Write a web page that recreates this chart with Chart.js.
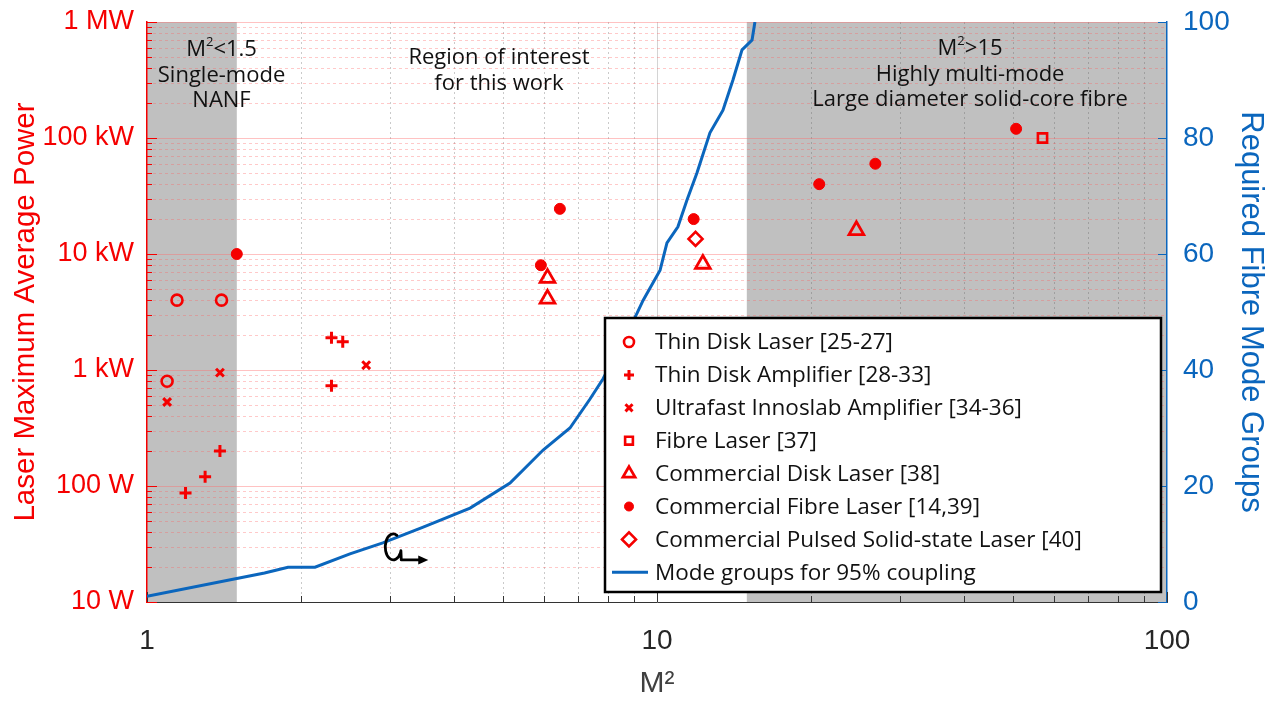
<!DOCTYPE html>
<html>
<head>
<meta charset="utf-8">
<script src="https://cdn.jsdelivr.net/npm/chart.js@4.4.1/dist/chart.umd.min.js"></script>
<style>
  html, body { margin: 0; padding: 0; background: #ffffff; }
  #wrap { width: 1277px; height: 702px; position: relative; }
</style>
</head>
<body>
<div id="wrap"><canvas id="c" width="1277" height="702"></canvas></div>
<script>
// ---- Source data: beam quality (M²) vs. maximum average power ----
const thinDiskLaserM2    = [1.145, 1.40, 1.095];
const thinDiskLaserPower = [4000, 4000, 800];

const thinDiskAmpM2    = [1.19, 1.30, 1.39, 2.30, 2.42, 2.30];
const thinDiskAmpPower = [87, 120, 200, 1900, 1750, 730];

const innoslabM2    = [1.095, 1.39, 2.69];
const innoslabPower = [530, 950, 1100];

const fibreLaserM2    = [57];
const fibreLaserPower = [100000];

const commDiskM2    = [6.1, 6.1, 12.3, 24.6];
const commDiskPower = [6200, 4100, 8200, 16000];

const commFibreM2    = [1.5, 5.92, 6.45, 11.8, 20.8, 26.8, 50.6];
const commFibrePower = [10000, 8000, 24500, 20000, 40000, 60000, 120000];

const pulsedM2    = [11.9];
const pulsedPower = [13500];

// Fibre mode groups needed for 95% coupling, vs. M²
const modeM2     = [1.0, 1.70, 1.89, 2.135, 2.50, 2.90, 3.48, 4.30, 5.15, 5.98, 6.75, 7.39, 7.84,
                    9.14, 9.39, 10.14, 10.46, 10.99, 11.45, 11.98, 12.70, 13.47, 14.09, 14.68, 15.36, 15.56];
const modeGroups = [1, 5, 6, 6, 8.3, 10.2, 12.9, 16.2, 20.5, 26.2, 30, 35, 38.5,
                    49.8, 52, 57.2, 61.9, 64.7, 69.3, 74, 80.9, 84.8, 90, 95.2, 96.9, 100];

// Axis ticks
const powerTicks      = [10, 100, 1e3, 1e4, 1e5, 1e6];
const powerTickLabels = ['10 W', '100 W', '1 kW', '10 kW', '100 kW', '1 MW'];
const m2Ticks         = [1, 10, 100];
const m2TickLabels    = ['1', '10', '100'];
const groupTicks      = [0, 20, 40, 60, 80, 100];

// Shaded M² ranges (single-mode NANF, highly multi-mode fibre)
const shadedRanges = [[1, 1.5], [15, 100]];

// ---- Styling ----
const RED = '#f50000';
const BLUE = '#0b66bd';
const TXT_FONT = '"Open Sans", "Noto Sans", sans-serif';
const AX_FONT = '"Liberation Sans", Arial, sans-serif';

const pts = (xs, ys) => xs.map((v, i) => ({ x: v, y: ys[i] }));

const datasets = [
  { label: 'Thin Disk Laser [25-27]', data: pts(thinDiskLaserM2, thinDiskLaserPower),
    pointStyle: 'circle', pointRadius: 5.5, pointBorderWidth: 2.6,
    borderColor: RED, backgroundColor: 'rgba(0,0,0,0)', legendRadius: 5 },
  { label: 'Thin Disk Amplifier [28-33]', data: pts(thinDiskAmpM2, thinDiskAmpPower),
    pointStyle: 'cross', pointRadius: 6, pointBorderWidth: 3,
    borderColor: RED, backgroundColor: RED, legendRadius: 5 },
  { label: 'Ultrafast Innoslab Amplifier [34-36]', data: pts(innoslabM2, innoslabPower),
    pointStyle: 'crossRot', pointRadius: 5.5, pointBorderWidth: 3,
    borderColor: RED, backgroundColor: RED, legendRadius: 5 },
  { label: 'Fibre Laser [37]', data: pts(fibreLaserM2, fibreLaserPower),
    pointStyle: 'rect', pointRadius: 6.5, pointBorderWidth: 2.6,
    borderColor: RED, backgroundColor: 'rgba(0,0,0,0)', legendRadius: 5.5 },
  { label: 'Commercial Disk Laser [38]', data: pts(commDiskM2, commDiskPower),
    pointStyle: 'triangle', pointRadius: 8.5, pointBorderWidth: 2.8,
    borderColor: RED, backgroundColor: 'rgba(0,0,0,0)', legendRadius: 7 },
  { label: 'Commercial Fibre Laser [14,39]', data: pts(commFibreM2, commFibrePower),
    pointStyle: 'circle', pointRadius: 5.5, pointBorderWidth: 1,
    borderColor: RED, backgroundColor: RED, legendRadius: 4.5 },
  { label: 'Commercial Pulsed Solid-state Laser [40]', data: pts(pulsedM2, pulsedPower),
    pointStyle: 'rectRot', pointRadius: 7, pointBorderWidth: 2.6,
    borderColor: RED, backgroundColor: 'rgba(0,0,0,0)', legendRadius: 7 },
  { type: 'line', label: 'Mode groups for 95% coupling', data: pts(modeM2, modeGroups),
    yAxisID: 'y2', borderColor: BLUE, borderWidth: 3, pointRadius: 0, showLine: true,
    fill: false, tension: 0 }
].map(d => Object.assign({ showLine: false, pointHoverRadius: d.pointRadius }, d));

// Grey regions behind everything
const regionShade = {
  id: 'regionShade',
  beforeDraw(chart) {
    const { ctx, chartArea: a, scales: { x } } = chart;
    ctx.save();
    ctx.fillStyle = '#c0c0c0';
    shadedRanges.forEach(([lo, hi]) => {
      const x0 = x.getPixelForValue(lo), x1 = x.getPixelForValue(hi);
      ctx.fillRect(x0, a.top, x1 - x0, a.bottom - a.top);
    });
    ctx.restore();
  }
};

// Log grid (major solid, minor dotted) and inward tick marks
const logGrid = {
  id: 'logGrid',
  beforeDatasetsDraw(chart) {
    const { ctx, chartArea: a, scales: { x, y, y2 } } = chart;
    ctx.save();
    ctx.lineWidth = 1;
    const hLine = (py, color, dash) => {
      ctx.strokeStyle = color; ctx.setLineDash(dash);
      ctx.beginPath(); ctx.moveTo(a.left, py); ctx.lineTo(a.right, py); ctx.stroke();
    };
    const vLine = (px, color, dash) => {
      ctx.strokeStyle = color; ctx.setLineDash(dash);
      ctx.beginPath(); ctx.moveTo(px, a.top); ctx.lineTo(px, a.bottom); ctx.stroke();
    };
    const yMinor = [], xMinor = [];
    for (let i = 0; i < powerTicks.length - 1; i++)
      for (let k = 2; k <= 9; k++) yMinor.push(powerTicks[i] * k);
    for (let i = 0; i < m2Ticks.length - 1; i++)
      for (let k = 2; k <= 9; k++) xMinor.push(m2Ticks[i] * k);

    xMinor.forEach(v => vLine(Math.round(x.getPixelForValue(v)) + 0.5, 'rgba(90,90,90,0.32)', [2, 3]));
    m2Ticks.slice(1, -1).forEach(v => vLine(Math.round(x.getPixelForValue(v)) + 0.5, 'rgba(60,60,60,0.22)', []));
    yMinor.forEach(v => hLine(Math.round(y.getPixelForValue(v)) + 0.5, 'rgba(255,90,90,0.33)', [3, 3]));
    powerTicks.slice(1).forEach(v => hLine(Math.round(y.getPixelForValue(v)) + 0.5, 'rgba(255,110,110,0.42)', []));

    ctx.setLineDash([]);
    // left axis ticks (red)
    ctx.strokeStyle = RED;
    powerTicks.forEach(v => {
      const py = Math.round(y.getPixelForValue(v)) + 0.5;
      ctx.beginPath(); ctx.moveTo(a.left, py); ctx.lineTo(a.left + 10, py); ctx.stroke();
    });
    yMinor.forEach(v => {
      const py = Math.round(y.getPixelForValue(v)) + 0.5;
      ctx.beginPath(); ctx.moveTo(a.left, py); ctx.lineTo(a.left + 5, py); ctx.stroke();
    });
    // bottom axis ticks
    ctx.strokeStyle = '#333333';
    m2Ticks.forEach(v => {
      const px = Math.round(x.getPixelForValue(v)) + 0.5;
      ctx.beginPath(); ctx.moveTo(px, a.bottom); ctx.lineTo(px, a.bottom - 10); ctx.stroke();
    });
    xMinor.forEach(v => {
      const px = Math.round(x.getPixelForValue(v)) + 0.5;
      ctx.beginPath(); ctx.moveTo(px, a.bottom); ctx.lineTo(px, a.bottom - 6); ctx.stroke();
    });
    // right axis ticks (blue)
    ctx.strokeStyle = BLUE;
    groupTicks.forEach(v => {
      const py = Math.round(y2.getPixelForValue(v)) + 0.5;
      ctx.beginPath(); ctx.moveTo(a.right, py); ctx.lineTo(a.right - 9, py); ctx.stroke();
    });
    ctx.restore();
  }
};

// Region captions (with superscript support) and the right-axis pointer
const captions = [
  { m2: 1.40, power: 5.75e5, lines: [[['M'], ['2', 1], ['<1.5']], [['Single-mode']], [['NANF']]] },
  { m2: 4.90, power: 4.9e5, lines: [[['Region of interest']], [['for this work']]] },
  { m2: 41.1, power: 5.85e5, lines: [[['M'], ['2', 1], ['>15']], [['Highly multi-mode']], [['Large diameter solid-core fibre']]] }
];
const axisPointer = { m2: 3.04, groups: 9.5 };

const annotations = {
  id: 'annotations',
  afterDatasetsDraw(chart) {
    const { ctx, scales: { x, y, y2 } } = chart;
    ctx.save();
    ctx.fillStyle = '#111111';
    ctx.textBaseline = 'middle';
    const big = '22px ' + TXT_FONT, small = '13px ' + TXT_FONT;
    captions.forEach(c => {
      const cx = x.getPixelForValue(c.m2);
      const cy = y.getPixelForValue(c.power);
      c.lines.forEach((segs, i) => {
        let w = 0;
        segs.forEach(s => { ctx.font = s[1] ? small : big; w += ctx.measureText(s[0]).width; });
        let px = cx - w / 2;
        const py = cy + i * 25.5;
        segs.forEach(s => {
          ctx.font = s[1] ? small : big;
          ctx.textAlign = 'left';
          ctx.fillText(s[0], px, s[1] ? py - 8 : py);
          px += ctx.measureText(s[0]).width;
        });
      });
    });

    // curled pointer showing the blue curve belongs to the right axis
    const px = x.getPixelForValue(axisPointer.m2);
    const py = y2.getPixelForValue(axisPointer.groups);
    const rx = 8, ry = 13;
    ctx.strokeStyle = '#000000';
    ctx.lineWidth = 2.8;
    ctx.lineCap = 'round';
    ctx.lineJoin = 'round';
    ctx.beginPath();
    ctx.ellipse(px, py, rx, ry, 0, -63 * Math.PI / 180, 17 * Math.PI / 180, true);
    ctx.lineTo(px + rx, py + ry);
    ctx.lineTo(px + rx + 20, py + ry);
    ctx.stroke();
    ctx.fillStyle = '#000000';
    ctx.beginPath();
    ctx.moveTo(px + rx + 27, py + ry);
    ctx.lineTo(px + rx + 17, py + ry - 4.5);
    ctx.lineTo(px + rx + 17, py + ry + 4.5);
    ctx.closePath();
    ctx.fill();
    ctx.restore();
  }
};

// Boxed legend in the lower right of the plot
function markerAt(ctx, ds, cx, cy) {
  ctx.save();
  ctx.strokeStyle = ds.borderColor;
  ctx.fillStyle = ds.backgroundColor;
  ctx.lineWidth = ds.pointBorderWidth;
  Chart.helpers.drawPoint(ctx, {
    pointStyle: ds.pointStyle, radius: ds.legendRadius, rotation: 0, borderWidth: ds.pointBorderWidth
  }, cx, cy);
  ctx.restore();
}

const boxLegend = {
  id: 'boxLegend',
  afterDatasetsDraw(chart) {
    const { ctx, chartArea: a } = chart;
    const w = 556, h = 274;
    const left = a.right - w - 6, top = a.bottom - h - 10;
    ctx.save();
    ctx.fillStyle = '#ffffff';
    ctx.fillRect(left, top, w, h);
    ctx.lineWidth = 2.5;
    ctx.strokeStyle = '#000000';
    ctx.strokeRect(left, top, w, h);
    ctx.font = '22.5px ' + TXT_FONT;
    ctx.textBaseline = 'middle';
    ctx.textAlign = 'left';
    chart.data.datasets.forEach((ds, i) => {
      const cy = top + 24 + i * 32.9;
      if (ds.type === 'line') {
        ctx.strokeStyle = ds.borderColor;
        ctx.lineWidth = ds.borderWidth;
        ctx.beginPath(); ctx.moveTo(left + 7, cy); ctx.lineTo(left + 43, cy); ctx.stroke();
      } else {
        markerAt(ctx, ds, left + 24, cy);
      }
      ctx.fillStyle = '#111111';
      ctx.fillText(ds.label, left + 50, cy + 1);
    });
    ctx.restore();
  }
};

new Chart(document.getElementById('c'), {
  type: 'scatter',
  data: { datasets },
  options: {
    responsive: false,
    animation: false,
    devicePixelRatio: 1,
    layout: { padding: { top: 22, left: 0, right: 0, bottom: 0 } },
    plugins: { legend: { display: false }, tooltip: { enabled: false } },
    scales: {
      x: {
        type: 'logarithmic', position: 'bottom', min: 1, max: 100,
        afterFit(s) { s.height = 100; s.paddingLeft = 0; s.paddingRight = 0; },
        afterBuildTicks(s) { s.ticks = m2Ticks.map(v => ({ value: v })); },
        grid: { display: false, drawTicks: false },
        border: { display: true, color: '#333333', width: 1 },
        ticks: {
          autoSkip: false, maxRotation: 0, padding: 22, color: '#262626',
          font: { family: AX_FONT, size: 28 },
          callback: v => m2TickLabels[m2Ticks.indexOf(v)]
        },
        title: {
          display: true, text: 'M²', color: '#404040',
          font: { family: AX_FONT, size: 30 }, padding: { top: 0, bottom: 0 }
        }
      },
      y: {
        type: 'logarithmic', position: 'left', min: 10, max: 1e6,
        afterFit(s) { s.width = 147; s.paddingTop = 0; s.paddingBottom = 0; },
        afterBuildTicks(s) { s.ticks = powerTicks.map(v => ({ value: v })); },
        grid: { display: false, drawTicks: false },
        border: { display: true, color: RED, width: 1.5 },
        ticks: {
          autoSkip: false, padding: 13, color: RED,
          font: { family: AX_FONT, size: 27 },
          callback: v => powerTickLabels[powerTicks.indexOf(v)]
        },
        title: {
          display: true, text: 'Laser Maximum Average Power', color: RED,
          font: { family: AX_FONT, size: 29.5 }, padding: { top: 8, bottom: 0 }
        }
      },
      y2: {
        type: 'linear', position: 'right', min: 0, max: 100,
        afterFit(s) { s.width = 110; s.paddingTop = 0; s.paddingBottom = 0; },
        afterBuildTicks(s) { s.ticks = groupTicks.map(v => ({ value: v })); },
        grid: { display: false, drawTicks: false },
        border: { display: true, color: BLUE, width: 1.5 },
        ticks: {
          autoSkip: false, padding: 16, color: BLUE,
          font: { family: AX_FONT, size: 28 }
        },
        title: {
          display: true, text: 'Required Fibre Mode Groups', color: BLUE,
          font: { family: AX_FONT, size: 31 }, padding: { top: 8, bottom: 0 }
        }
      }
    }
  },
  plugins: [regionShade, logGrid, annotations, boxLegend]
});
</script>
</body>
</html>
